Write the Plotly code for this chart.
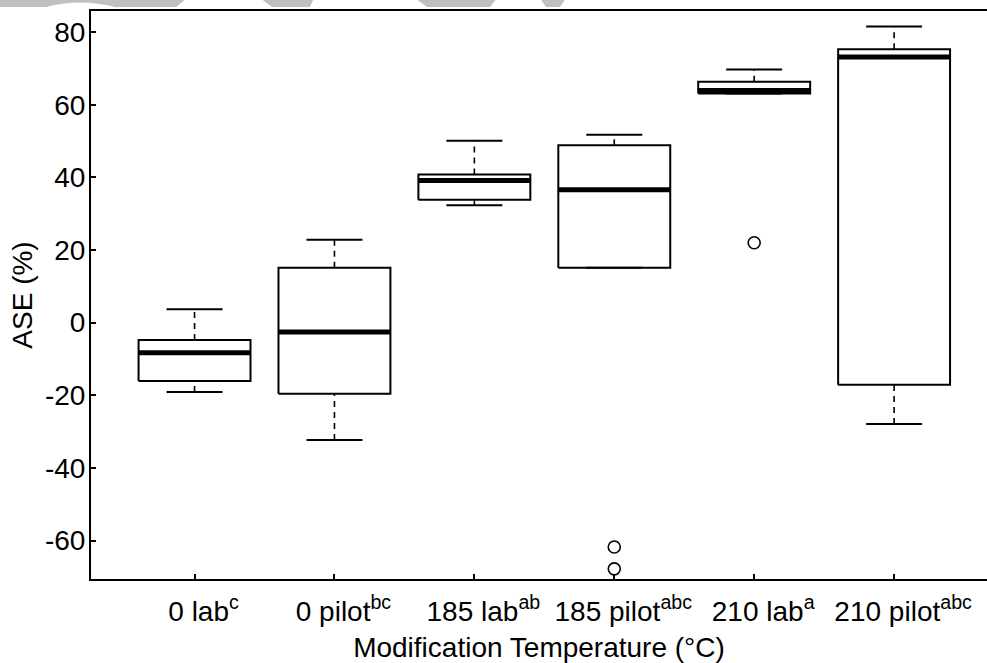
import numpy as np
import plotly.graph_objects as go

# ---------------- data ----------------
categories = ["0 lab<sup>c</sup>", "0 pilot<sup>bc</sup>", "185 lab<sup>ab</sup>",
              "185 pilot<sup>abc</sup>", "210 lab<sup>a</sup>", "210 pilot<sup>abc</sup>"]
lower_whisker = [-19.1, -32.3, 32.3, 15.1, 63.1, -27.9]
q1 = [-16.1, -19.6, 33.8, 15.1, 63.1, -17.1]
median = [-8.3, -2.6, 39.1, 36.6, 63.9, 73.1]
q3 = [-4.8, 15.1, 40.8, 48.8, 66.3, 75.3]
upper_whisker = [3.7, 22.8, 50.1, 51.7, 69.7, 81.5]
outlier_group = [4, 4, 5]
outlier_value = [-61.8, -67.8, 22.0]
y_ticks = [-60, -40, -20, 0, 20, 40, 60, 80]
y_tick_labels = ["-60", "-40", "-20", "0", "20", "40", "60", "80"]

# ---------------- style ----------------
FONT = "Liberation Sans, Arial, sans-serif"
BOX_HALF = 0.4
STAPLE_HALF = 0.2

pos = np.arange(1, len(categories) + 1)

def seg(xs_list, ys_list):
    xs, ys = [], []
    for x, y in zip(xs_list, ys_list):
        xs += list(x) + [None]
        ys += list(y) + [None]
    return xs, ys

# boxes
bx, by = seg([[p - BOX_HALF, p + BOX_HALF, p + BOX_HALF, p - BOX_HALF, p - BOX_HALF] for p in pos],
             [[a, a, b, b, a] for a, b in zip(q1, q3)])
# medians
mx, my = seg([[p - BOX_HALF, p + BOX_HALF] for p in pos], [[m, m] for m in median])
# whiskers (dashed)
wx, wy = seg([[p, p] for p in pos] * 2,
             [[b, u] for b, u in zip(q3, upper_whisker)] + [[l, a] for l, a in zip(lower_whisker, q1)])
# staples
sx, sy = seg([[p - STAPLE_HALF, p + STAPLE_HALF] for p in pos] * 2,
             [[u, u] for u in upper_whisker] + [[l, l] for l in lower_whisker])

fig = go.Figure()
fig.add_trace(go.Scatter(x=wx, y=wy, mode="lines",
                         line=dict(color="black", width=1.6, dash="6px,5px"), hoverinfo="skip"))
fig.add_trace(go.Scatter(x=sx, y=sy, mode="lines",
                         line=dict(color="black", width=2), hoverinfo="skip"))
fig.add_trace(go.Scatter(x=bx, y=by, mode="lines",
                         line=dict(color="black", width=2), hoverinfo="skip"))
fig.add_trace(go.Scatter(x=mx, y=my, mode="lines",
                         line=dict(color="black", width=5), hoverinfo="skip"))
fig.add_trace(go.Scatter(x=outlier_group, y=outlier_value, mode="markers",
                         marker=dict(symbol="circle-open", size=12, color="black",
                                     line=dict(width=1.6, color="black")), hoverinfo="skip"))

# gray watermark fragments at the very top (pixel geometry converted to paper coords)
L, R, T, B = 91, 987, 11, 579
def px(x):
    return (x - L) / (R - L)
def py(y):
    return (B - y) / (B - T)
polys = [
    [(0, -2), (187, -2), (176, 7), (115, 7), ("Q", 80, -2), (46, 7), (0, 7)],
    [(260, -2), (314, -2), (310, 7), (272, 7)],
    [(415, -2), (497, -2), (490, 7), (427, 7)],
    [(540, -2), (566, -2), (560, 7), (546, 7)],
]
for poly in polys:
    parts = []
    i = 0
    first = True
    while i < len(poly):
        pt = poly[i]
        if pt[0] == "Q":
            nxt = poly[i + 1]
            parts.append(f"Q{px(pt[1]):.5f},{py(pt[2]):.5f} {px(nxt[0]):.5f},{py(nxt[1]):.5f}")
            i += 2
            continue
        parts.append(("M" if first else "L") + f"{px(pt[0]):.5f},{py(pt[1]):.5f}")
        first = False
        i += 1
    fig.add_shape(type="path", path=" ".join(parts) + " Z", xref="paper", yref="paper",
                  fillcolor="#c0c0c0", line=dict(width=0), layer="above")

fig.update_layout(
    width=987, height=663,
    margin=dict(l=L, r=987 - R, t=T, b=663 - B, pad=0),
    paper_bgcolor="white", plot_bgcolor="white",
    showlegend=False,
    font=dict(family=FONT, size=28, color="black"),
    xaxis=dict(
        range=[0.26, 6.664], tickmode="array", tickvals=list(pos), ticktext=categories,
        ticks="inside", ticklen=5, tickwidth=1.6, tickcolor="black",
        showline=True, linewidth=2, linecolor="black", mirror=True,
        showgrid=False, zeroline=False, automargin=False,
        ticklabelstandoff=6, ticklabelshift=9,
        title=dict(text="Modification Temperature (°C)", standoff=21,
                   font=dict(family=FONT, size=28)),
        tickfont=dict(family=FONT, size=28),
    ),
    yaxis=dict(
        range=[-70.6, 85.8], tickmode="array", tickvals=y_ticks, ticktext=y_tick_labels,
        ticks="inside", ticklen=5, tickwidth=1.6, tickcolor="black",
        showline=True, linewidth=2, linecolor="black", mirror=False,
        showgrid=False, zeroline=False, automargin=False,
        ticklabelstandoff=-2,
        title=dict(text="ASE (%)", standoff=4, font=dict(family=FONT, size=28)),
        tickfont=dict(family=FONT, size=28),
    ),
)

fig.write_html("out.html", config={"displayModeBar": False})

# remove the browser's default 8px page margin so the figure sits at the window's corner
with open("out.html", "r", encoding="utf-8") as f:
    html = f.read()
html = html.replace("<body>", '<body style="margin:0;padding:0;">', 1)
with open("out.html", "w", encoding="utf-8") as f:
    f.write(html)
